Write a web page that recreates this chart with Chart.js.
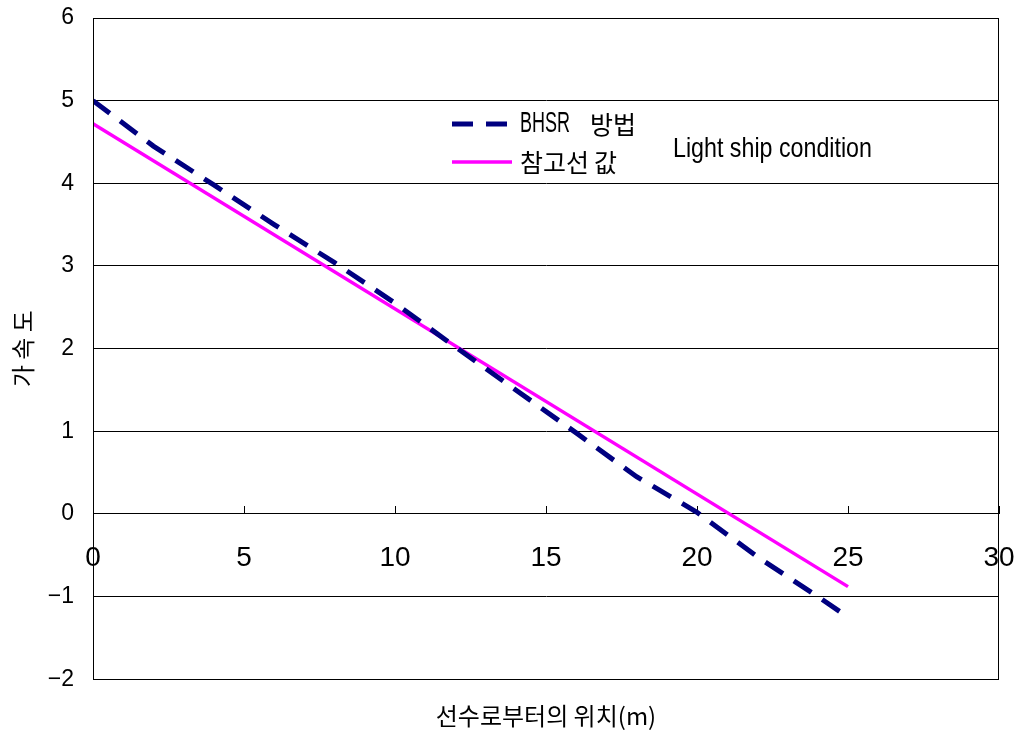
<!DOCTYPE html>
<html>
<head>
<meta charset="utf-8">
<script src="https://cdn.jsdelivr.net/npm/chart.js@4.4.1/dist/chart.umd.min.js"></script>
<style>
  html, body { margin: 0; padding: 0; background: #ffffff; }
  #wrap { width: 1021px; height: 743px; position: relative; }
</style>
</head>
<body>
<div id="wrap"><canvas id="c" width="1021" height="743"></canvas></div>
<script>
// ---- data ----
const positions   = [0, 2, 4, 6, 8, 10, 12, 14, 16, 18, 20, 22, 24, 25];
const bhsrValues  = [5.0, 4.45, 3.98, 3.5, 3.04, 2.55, 2.02, 1.5, 0.98, 0.45, 0.02, -0.52, -1.0, -1.25];
const refPositions = [0, 25];
const refValues    = [4.72, -0.88];
const xTickValues = [0, 5, 10, 15, 20, 25, 30];
const yTickValues = [-2, -1, 0, 1, 2, 3, 4, 5, 6];
const seriesNames = ['BHSR 방법', '참고선 값'];
const annotationText = 'Light ship condition';
const xTitle = '선수로부터의 위치(m)';
const yTitle = '가 속 도';

const KR = '"Noto Sans CJK KR", "Noto Sans", sans-serif';
const LAT = '"Liberation Sans", Arial, sans-serif';
const NARROW = '"Liberation Sans Narrow", "Liberation Sans", Arial, sans-serif';

function toPoints(xs, ys) { return xs.map((x, i) => ({ x: x, y: ys[i] })); }

function zeroPadding(scale) {
  scale.paddingLeft = 0; scale.paddingRight = 0;
  scale.paddingTop = 0; scale.paddingBottom = 0;
}

function drawWords(ctx, text, x, y) {
  const words = text.split(' ');
  let cx = x;
  words.forEach((w) => {
    const latin = /^[A-Za-z0-9]+$/.test(w);
    ctx.save();
    ctx.font = latin ? '30px ' + LAT : '25px ' + KR;
    const sx = latin ? 0.6 : 1;
    ctx.translate(cx, y);
    ctx.scale(sx, 1);
    ctx.fillText(w, 0, 0);
    const wd = ctx.measureText(w).width * sx;
    ctx.restore();
    cx += wd + (latin ? 20 : 5);
  });
}

const overlay = {
  id: 'overlay',
  afterDraw(chart) {
    const { ctx, chartArea: a } = chart;
    ctx.save();
    ctx.strokeStyle = '#000';
    ctx.lineWidth = 1;
    ctx.setLineDash([]);
    const l = Math.round(a.left), t = Math.round(a.top);
    const r = Math.round(a.right), b = Math.round(a.bottom);
    ctx.strokeRect(l + 0.5, t + 0.5, r - l - 1, b - t);

    const ds = chart.data.datasets;
    const lx0 = 452, lx1 = 510;
    const rows = [124, 162];
    ds.forEach((d, i) => {
      ctx.save();
      ctx.strokeStyle = d.borderColor;
      ctx.lineWidth = d.borderWidth;
      ctx.setLineDash(d.borderDash || []);
      ctx.lineCap = 'butt';
      ctx.beginPath();
      ctx.moveTo(lx0, rows[i]);
      ctx.lineTo(lx1 + (i === 0 ? -2 : 2), rows[i]);
      ctx.stroke();
      ctx.restore();
      ctx.fillStyle = '#000';
      ctx.textBaseline = 'middle';
      ctx.textAlign = 'left';
      drawWords(ctx, d.label, 520, rows[i]);
    });

    ctx.save();
    ctx.fillStyle = '#000';
    ctx.font = '28px ' + LAT;
    ctx.textBaseline = 'alphabetic';
    ctx.translate(673, 157);
    ctx.scale(0.83, 1);
    ctx.fillText(annotationText, 0, 0);
    ctx.restore();
    ctx.restore();
  }
};

new Chart(document.getElementById('c'), {
  type: 'line',
  data: {
    datasets: [
      {
        label: seriesNames[0],
        data: toPoints(positions, bhsrValues),
        borderColor: '#000080',
        borderWidth: 5,
        borderDash: [21, 13],
        pointRadius: 0,
        fill: false,
        tension: 0
      },
      {
        label: seriesNames[1],
        data: toPoints(refPositions, refValues),
        borderColor: '#FF00FF',
        borderWidth: 3.5,
        pointRadius: 0,
        fill: false,
        tension: 0
      }
    ]
  },
  options: {
    responsive: false,
    animation: false,
    devicePixelRatio: 1,
    layout: { padding: { top: 18, right: 22, left: 0, bottom: 0 } },
    plugins: {
      legend: { display: false },
      tooltip: { enabled: false },
      title: {
        display: true,
        text: xTitle,
        position: 'bottom',
        fullSize: false,
        color: '#000',
        font: { family: KR, size: 24, weight: 'normal' },
        padding: { top: 22, bottom: 13 }
      }
    },
    scales: {
      x: {
        type: 'linear',
        min: 0, max: 30,
        position: { y: 0 },
        afterBuildTicks(scale) { scale.ticks = xTickValues.map(v => ({ value: v })); },
        afterFit(scale) { scale.height = 0; zeroPadding(scale); },
        grid: { drawOnChartArea: false, drawTicks: true, tickLength: -8, color: '#000', lineWidth: 1 },
        border: { display: true, color: '#000', width: 1 },
        ticks: {
          color: '#000',
          font: { family: NARROW, size: 28 },
          padding: 36,
          maxRotation: 0,
          autoSkip: false
        }
      },
      y: {
        type: 'linear',
        min: -2, max: 6,
        afterBuildTicks(scale) { scale.ticks = yTickValues.map(v => ({ value: v })); },
        afterFit(scale) { scale.width = 93; zeroPadding(scale); },
        grid: { color: '#000', lineWidth: 1, drawTicks: false },
        border: { display: true, color: '#000', width: 1 },
        ticks: {
          color: '#000',
          font: { family: LAT, size: 23 },
          padding: 19,
          callback: v => (v < 0 ? '\u2212' + Math.abs(v) : String(v))
        },
        title: {
          display: true,
          text: yTitle,
          color: '#000',
          font: { family: KR, size: 24, weight: 'normal' },
          padding: { top: 8, bottom: 0 }
        }
      }
    }
  },
  plugins: [overlay]
});
</script>
</body>
</html>
